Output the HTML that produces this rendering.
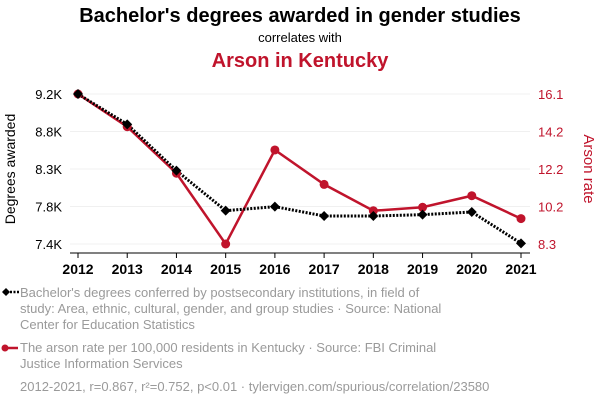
<!DOCTYPE html>
<html><head><meta charset="utf-8"><style>
body{margin:0;width:600px;height:408px;background:#fff;font-family:"Liberation Sans",sans-serif;overflow:hidden}
svg{display:block}
</style></head><body>
<svg width="600" height="408">
<text x="300" y="22" text-anchor="middle" font-size="20" font-weight="bold" fill="#000">Bachelor's degrees awarded in gender studies</text>
<text x="300" y="42" text-anchor="middle" font-size="13" fill="#000">correlates with</text>
<text x="300" y="67" text-anchor="middle" font-size="20" font-weight="bold" fill="#c0142c">Arson in Kentucky</text>
<g id="grid"></g>
<g id="axes"></g>
<g id="marks"></g>
<text transform="translate(15,169) rotate(-90)" text-anchor="middle" font-size="14" fill="#000">Degrees awarded</text>
<text transform="translate(584,169) rotate(90)" text-anchor="middle" font-size="15" fill="#c0142c">Arson rate</text>
<g>
<line x1="3" y1="292" x2="19" y2="292" stroke="#000" stroke-width="2.5" stroke-dasharray="2,1.5"/>
<path d="M2,292 L6,288 L10,292 L6,296Z" fill="#000"/>
<text font-size="13" fill="#9a9a9a"><tspan x="20" y="297">Bachelor's degrees conferred by postsecondary institutions, in field of</tspan><tspan x="20" y="313">study: Area, ethnic, cultural, gender, and group studies · Source: National</tspan><tspan x="20" y="329">Center for Education Statistics</tspan></text>
</g>
<g>
<line x1="3" y1="348" x2="18" y2="348" stroke="#c0142c" stroke-width="2.5"/>
<circle cx="5" cy="348" r="3.5" fill="#c0142c"/>
<text font-size="13" fill="#9a9a9a"><tspan x="20" y="352">The arson rate per 100,000 residents in Kentucky · Source: FBI Criminal</tspan><tspan x="20" y="368">Justice Information Services</tspan></text>
</g>
<text x="20" y="391" font-size="13" fill="#9a9a9a">2012-2021, r=0.867, r²=0.752, p&lt;0.01 · tylervigen.com/spurious/correlation/23580</text>
</svg>
<script>
const years=[2012,2013,2014,2015,2016,2017,2018,2019,2020,2021];
const degrees=[9.2,8.836,8.28,7.80,7.848,7.736,7.736,7.752,7.784,7.408];
const arson=[16.1,14.4,11.98,8.3,13.19,11.4,10.03,10.21,10.81,9.62];
const leftTicks=[9.2,8.75,8.3,7.85,7.4];
const leftLabels=["9.2K","8.8K","8.3K","7.8K","7.4K"];
const rightTicks=[16.1,14.15,12.2,10.25,8.3];
const rightLabels=["16.1","14.2","12.2","10.2","8.3"];
const NS="http://www.w3.org/2000/svg";
const x=y=>78+(y-2012)*(521-78)/9;
const yl=v=>94+(9.2-v)/(9.2-7.4)*150;
const yr=v=>94+(16.1-v)/(16.1-8.3)*150;
function mk(t,a,p){const e=document.createElementNS(NS,t);for(const k in a)e.setAttribute(k,a[k]);p.appendChild(e);return e;}
const grid=document.getElementById('grid'),axes=document.getElementById('axes'),marks=document.getElementById('marks');
leftTicks.forEach((v,i)=>{
 const g=mk('line',{x1:70,x2:530,y1:yl(v),y2:yl(v),stroke:'#f0f0f0','stroke-width':1},grid);
 
 
 const t=mk('text',{x:62,y:yl(v)+5,'text-anchor':'end','font-size':13,fill:'#000'},axes);t.textContent=leftLabels[i];
 
 
});
rightTicks.forEach((v,i)=>{
 const t=mk('text',{x:538,y:yr(v)+5,'font-size':13,fill:'#c0142c'},axes);t.textContent=rightLabels[i];
 
 
});
mk('line',{x1:70,x2:530,y1:253,y2:253,stroke:'#000','stroke-width':1},axes);
years.forEach(yv=>{
 mk('line',{x1:x(yv),x2:x(yv),y1:253,y2:258,stroke:'#000'},axes);
 const t=mk('text',{x:x(yv),y:274,'text-anchor':'middle','font-size':14,'font-weight':'bold',fill:'#000'},axes);t.textContent=yv;
 
 
});
const rl=mk('polyline',{points:years.map((yv,i)=>x(yv)+','+yr(arson[i])).join(' '),fill:'none',stroke:'#c0142c','stroke-width':2.5},marks);


const bl=mk('polyline',{points:years.map((yv,i)=>x(yv)+','+yl(degrees[i])).join(' '),fill:'none',stroke:'#000','stroke-width':3,'stroke-dasharray':'2,1.5'},marks);


years.forEach((yv,i)=>{
 const c=mk('circle',{cx:x(yv),cy:yr(arson[i]),r:4.5,fill:'#c0142c'},marks);
 
 
});
years.forEach((yv,i)=>{
 const cx=x(yv),cy=yl(degrees[i]);
 const d=mk('path',{d:`M${cx-5},${cy} L${cx},${cy-5} L${cx+5},${cy} L${cx},${cy+5}Z`,fill:'#000'},marks);
 
 
});
</script>
</body></html>
